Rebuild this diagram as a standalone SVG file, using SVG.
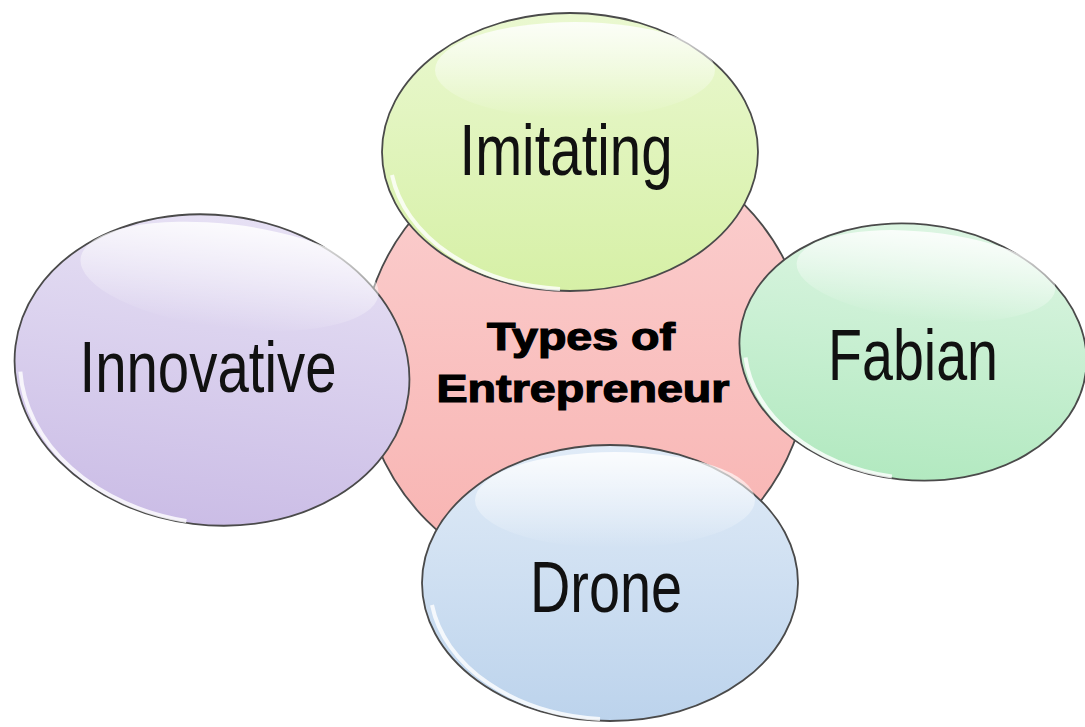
<svg xmlns="http://www.w3.org/2000/svg" width="1085" height="727" viewBox="0 0 1085 727">
<defs>
<linearGradient id="gPink" x1="0" y1="0" x2="0" y2="1"><stop offset="0" stop-color="#fbd0d0"/><stop offset="1" stop-color="#f8b2b0"/></linearGradient>
<linearGradient id="gYel" x1="0" y1="0" x2="0" y2="1"><stop offset="0" stop-color="#eaf8d0"/><stop offset="1" stop-color="#d6f0a6"/></linearGradient>
<linearGradient id="gPur" x1="0" y1="0" x2="0" y2="1"><stop offset="0" stop-color="#e6e0f4"/><stop offset="1" stop-color="#cbbde6"/></linearGradient>
<linearGradient id="gGrn" x1="0" y1="0" x2="0" y2="1"><stop offset="0" stop-color="#dcf5e2"/><stop offset="1" stop-color="#b2e9c0"/></linearGradient>
<linearGradient id="gBlu" x1="0" y1="0" x2="0" y2="1"><stop offset="0" stop-color="#e0ebf7"/><stop offset="1" stop-color="#bcd3ec"/></linearGradient>
<linearGradient id="gHi" x1="0" y1="0" x2="0" y2="1"><stop offset="0" stop-color="#ffffff" stop-opacity="0.85"/><stop offset="1" stop-color="#ffffff" stop-opacity="0"/></linearGradient>
</defs>
<style>
.shape{stroke:#4a4a4a;stroke-width:1.8}
.rim{fill:none;stroke:#ffffff;stroke-width:4;stroke-opacity:0.8}
.hi{fill:url(#gHi)}
.lbl{font-family:"Liberation Sans",Arial,sans-serif;font-size:72px;fill:#111;text-anchor:middle}
.ctr{font-family:"Liberation Sans",Arial,sans-serif;font-weight:bold;font-size:38px;fill:#000;stroke:#000;stroke-width:1.2;text-anchor:middle}
</style>
<rect width="1085" height="727" fill="#ffffff"/>
<g id="center">
<circle class="shape" cx="585" cy="362" r="224" fill="url(#gPink)"/>
<text class="ctr" x="581" y="350" textLength="188" lengthAdjust="spacingAndGlyphs">Types of</text>
<text class="ctr" x="583" y="402" textLength="293" lengthAdjust="spacingAndGlyphs">Entrepreneur</text>
</g>
<g id="imitating">
<ellipse class="shape" cx="570" cy="152" rx="188" ry="139" fill="url(#gYel)"/>
<path class="rim" d="M392,175 A184,135 0 0 0 560,289"/>
<ellipse class="hi" cx="575" cy="70" rx="140" ry="48"/>
<text class="lbl" x="566" y="175" textLength="213" lengthAdjust="spacingAndGlyphs">Imitating</text>
</g>
<g id="innovative">
<g transform="rotate(7 212 370)">
<ellipse class="shape" cx="212" cy="370" rx="198" ry="155" fill="url(#gPur)"/>
<path class="rim" d="M22,395 A194,151 0 0 0 205,523"/>
<ellipse class="hi" cx="218" cy="275" rx="150" ry="52"/>
</g>
<text class="lbl" x="208" y="392" textLength="257" lengthAdjust="spacingAndGlyphs">Innovative</text>
</g>
<g id="fabian">
<g transform="rotate(6 913 352)">
<ellipse class="shape" cx="913" cy="352" rx="174" ry="128" fill="url(#gGrn)"/>
<path class="rim" d="M747,375 A170,124 0 0 0 905,478"/>
<ellipse class="hi" cx="918" cy="275" rx="130" ry="44"/>
</g>
<text class="lbl" x="913" y="380" textLength="170" lengthAdjust="spacingAndGlyphs">Fabian</text>
</g>
<g id="drone">
<ellipse class="shape" cx="610" cy="583" rx="188" ry="138" fill="url(#gBlu)"/>
<path class="rim" d="M432,605 A184,134 0 0 0 600,719"/>
<ellipse class="hi" cx="615" cy="500" rx="140" ry="48"/>
<text class="lbl" x="606" y="612" textLength="152" lengthAdjust="spacingAndGlyphs">Drone</text>
</g>
<g id="connectors"/>
</svg>
